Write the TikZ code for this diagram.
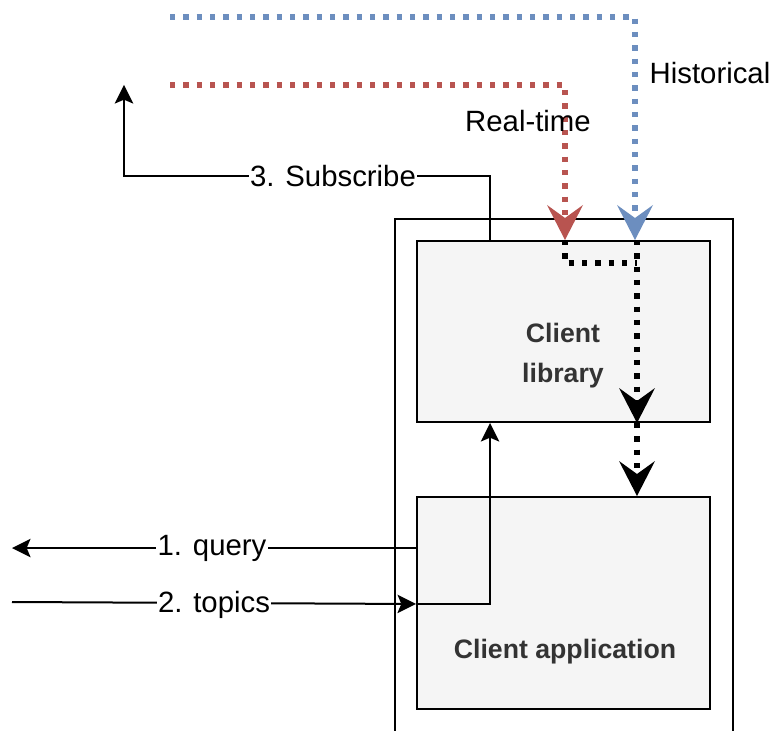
\documentclass[tikz,border=0pt]{standalone}
\usepackage{fontspec}
\setmainfont{Liberation Sans}
\usetikzlibrary{arrows.meta,calc}
\definecolor{dblue}{HTML}{6C8EBF}
\definecolor{dred}{HTML}{B85450}
\definecolor{boxfill}{HTML}{F5F5F5}
\definecolor{boxtxt}{HTML}{333333}
\tikzset{
  box/.style={draw=black, fill=boxfill, line width=1.5pt, minimum width=219.75pt, inner sep=0pt},
  container/.style={draw=black, line width=1.5pt, minimum width=253.5pt, minimum height=405.75pt, inner sep=0pt},
  boxtext/.style={text=boxtxt, font=\fontsize{20}{30}\selectfont\bfseries, align=center, inner sep=0pt},
  lbl/.style={font=\fontsize{22}{25}\selectfont, text=black, inner sep=1pt},
  lblw/.style={lbl, fill=white},
  conn/.style={line width=1.5pt, -{Stealth[length=14pt, width=14pt, inset=3pt, line width=0pt]}},
  dotline/.style={line width=4pt, dash pattern=on 4pt off 6pt},
}
\newcommand\mybigtip[2]{\fill[#1] (#2) -- ++(-18,-35) -- ++(18,13) -- ++(18,-13) -- cycle;}
\begin{document}
\begin{tikzpicture}[x=0.75pt, y=-0.75pt]
\clip (0,0) rectangle (772,731);
\fill[white] (0,0) rectangle (772,731);
% container and boxes
\node[container] (cont) at (564,489.5) {};
\node[box, minimum height=135.75pt] (lib) at (563.5,331.5) {};
\node[box, minimum height=159pt] (app) at (563.5,603) {};
\node[boxtext] (libtxt) at (563,356) {Client\\library};
\node[boxtext] (apptxt) at (565,652) {Client application};
% coordinates
\coordinate (bstart) at (170,17);
\coordinate (rstart) at (170,85);
\coordinate (subend) at (124,85);
\coordinate (qend) at (12,548);
\coordinate (tstart) at (12,602);
\coordinate (bendb) at (637,263);
\coordinate (bend) at (635,0 |- lib.north);
\coordinate (rend) at (565,0 |- lib.north);
\coordinate (k1s) at (637,0 |- lib.north);
\coordinate (k1e) at (637,0 |- lib.south);
\coordinate (k2e) at (637,0 |- app.north);
% historical (blue) and real-time (red)
\draw[dotline, dblue] (bstart) -| ($(bend)+(0,-20)$);
\mybigtip{dblue}{bend}
\draw[dotline, dred] (rstart) -| ($(rend)+(0,-20)$);
\mybigtip{dred}{rend}
\node[lbl] (hist) at (710,73) {Historical};
\node[lbl] (rt) at (528,121) {Real-time};
% black dotted
\draw[dotline, black] (rend) |- (bendb);
\draw[dotline, black] (k1s) -- ($(k1e)+(0,-20)$);
\mybigtip{black}{k1e}
\draw[dotline, black] (k1e) -- ($(k2e)+(0,-20)$);
\mybigtip{black}{k2e}
% subscribe
\draw[conn] (490,0 |- lib.north) |- (124,176) -- (subend);
\node[lblw] (sub) at (333,176) {3. Subscribe};
% query
\draw[conn] (app.west |- 0,548) -- (qend);
\node[lblw] (q) at (212,548) {1. query};
% topics
\draw[conn] (tstart) -- (app.west |- 0,604);
\node[lblw] (t) at (214,605) {2. topics};
\draw[conn] (app.west |- 0,604) -| (490,0 |- lib.south);
\end{tikzpicture}
\end{document}
